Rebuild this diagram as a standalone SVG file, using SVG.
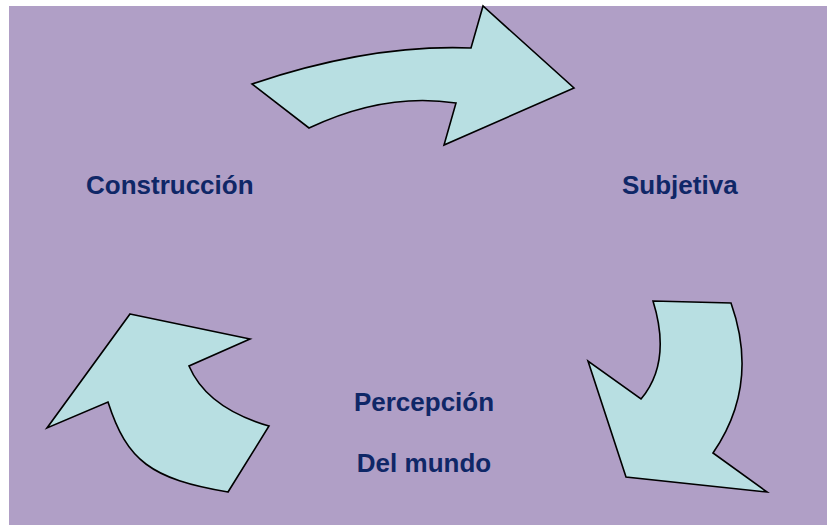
<svg xmlns="http://www.w3.org/2000/svg" width="827" height="525" viewBox="0 0 827 525">
<style>
.arrow{fill:#B8DFE2;stroke:#000;stroke-width:1.6;stroke-linejoin:miter}
.lbl{font-family:"Liberation Sans",Arial,sans-serif;font-weight:bold;font-size:26px;fill:#0F2767}
</style>
<rect x="0" y="0" width="827" height="525" fill="#FFFFFF"/>
<rect x="9" y="6" width="818" height="519" fill="#B09FC6"/>
<g id="connectors">
<path id="arrow-top" class="arrow" d="M252,84 Q370,44 471,48 L483,6 L574,88 L444,145 L456,103 Q385,92 309,128 Z"/>
<path id="arrow-right" class="arrow" d="M653,301 L731,303 Q760,385 713,453 L767,492 L626,477 L588,361 L641,399 Q672,362 653,301 Z"/>
<path id="arrow-left" class="arrow" d="M130,314 L250,339 L189,366 Q207,408 269,426 L228,492 C151,479 127,461 108,402 L47,428 Z"/>
</g>
<g id="node-construccion"><text class="lbl" x="86" y="194">Construcción</text></g>
<g id="node-subjetiva"><text class="lbl" x="622" y="194">Subjetiva</text></g>
<g id="node-percepcion">
<text class="lbl" x="424" y="411" text-anchor="middle">Percepción</text>
<text class="lbl" x="424" y="472" text-anchor="middle">Del mundo</text>
</g>
</svg>
